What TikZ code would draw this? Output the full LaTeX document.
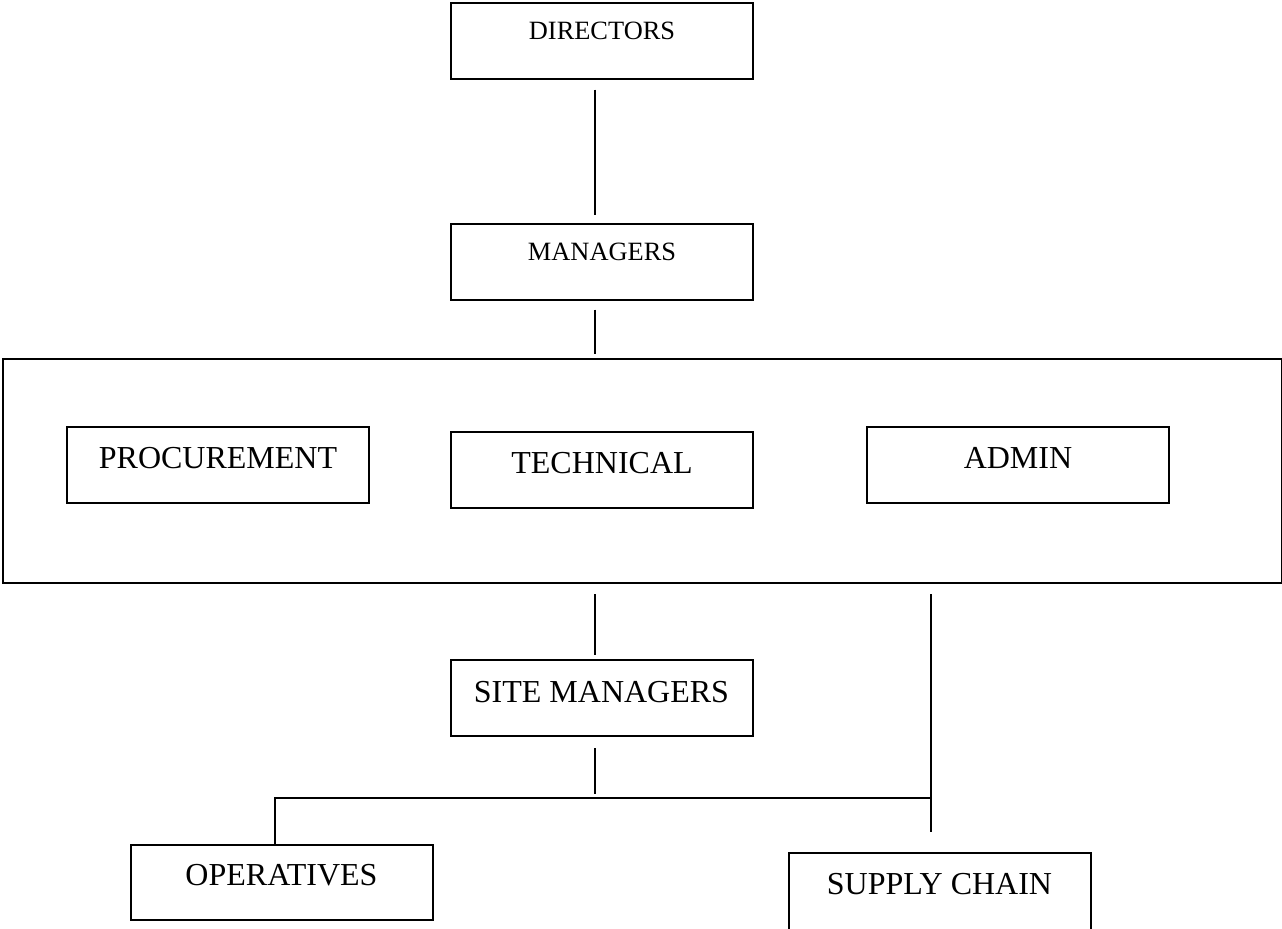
\documentclass[tikz,border=0pt]{standalone}
\usepackage{fontspec}
\setmainfont{Liberation Serif}
\begin{document}
\begin{tikzpicture}[x=0.5pt,y=-0.5pt, line width=1pt,
  box/.style={draw, rectangle, inner sep=0pt, minimum width=151pt, minimum height=38pt},
  bigtxt/.style={font=\fontsize{16}{19}\selectfont, text height=12pt, text depth=9pt},
  smalltxt/.style={font=\fontsize{13.2}{16}\selectfont, text height=8pt, text depth=9.5pt}]
\useasboundingbox (0,0) rectangle (1282,928);
\node[box,smalltxt] (dir) at (602,40.5) {DIRECTORS};
\node[box,smalltxt] (man) at (602,261.5) {MANAGERS};
\node[draw, rectangle, inner sep=0pt, minimum width=639.5pt, minimum height=112pt] (dept) at (642.5,471) {};
\node[box,bigtxt] (proc) at (218,465) {PROCUREMENT};
\node[box,bigtxt] (tech) at (602,470) {TECHNICAL};
\node[box,bigtxt] (admin) at (1018,465) {ADMIN};
\node[box,bigtxt, text height=12.5pt, text depth=8.5pt] (site) at (601.5,698) {SITE MANAGERS};
\node[box,bigtxt, minimum height=37.5pt] (oper) at (281.5,882.5) {OPERATIVES};
\node[box,bigtxt, minimum height=38.5pt] (supply) at (939.5,891.5) {SUPPLY CHAIN};
\coordinate (ax) at (595,0);
\coordinate (cx) at (275,0);
\coordinate (jr) at (931,798);
\draw[shorten <=5pt, shorten >=4pt] (dir.south -| ax) -- (man.north -| ax);
\draw[shorten <=4.5pt, shorten >=2pt] (man.south -| ax) -- (dept.north -| ax);
\draw[shorten <=5pt, shorten >=2pt] (dept.south -| ax) -- (site.north -| ax);
\draw[shorten <=5.5pt, shorten >=2pt] (site.south -| ax) -- (jr -| ax);
\draw (oper.north -| cx) |- (jr);
\draw[shorten <=5pt, shorten >=10pt] (dept.south -| jr) -- (supply.north -| jr);
\end{tikzpicture}
\end{document}
